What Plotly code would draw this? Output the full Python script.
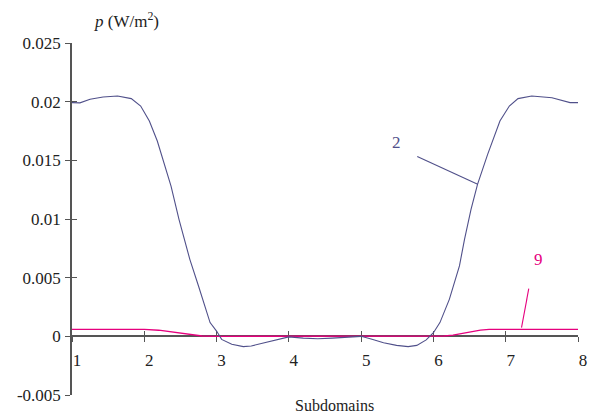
import plotly.graph_objects as go

# Curve 2
x2 = [1.0, 1.11, 1.25, 1.43, 1.63, 1.82, 1.95, 2.07, 2.18, 2.37, 2.48, 2.63, 2.75, 2.91, 3.0, 3.07,
      3.21, 3.37, 3.48, 3.67, 3.85, 4.0, 4.2, 4.4, 4.6, 4.8, 5.0, 5.15, 5.31, 5.49, 5.65, 5.77, 5.9,
      6.0, 6.09, 6.22, 6.36, 6.43, 6.52, 6.61, 6.75, 6.92, 7.05, 7.17, 7.36, 7.64, 7.89, 8.0]
y2 = [0.01992, 0.0199, 0.0202, 0.0204, 0.02048, 0.02026, 0.01963, 0.01835, 0.01665, 0.01281, 0.00997,
      0.00656, 0.00429, 0.00117, 0.00045, -0.00026, -0.00068, -0.00088, -0.00082, -0.00054, -0.0003,
      -0.00005, -0.00015, -0.0002, -0.00015, -0.00008, 0.0, -0.00025, -0.00054, -0.00077, -0.00088,
      -0.00077, -0.0003, 0.00031, 0.00117, 0.00315, 0.006, 0.00827, 0.01082, 0.01295, 0.01551, 0.01835,
      0.01963, 0.02026, 0.02048, 0.02034, 0.01992, 0.01992]

# Curve 9
x9 = [1.0, 1.5, 2.0, 2.2, 2.39, 2.55, 2.66, 2.8, 3.0, 4.0, 5.0, 6.0, 6.15, 6.27, 6.4, 6.5, 6.65, 6.77, 7.0, 7.5, 8.0]
y9 = [0.0006, 0.0006, 0.0006, 0.00052, 0.00037, 0.0002, 0.0001, 0.00003, 0.0, 0.0, 0.0, 0.0, 0.00003,
      0.0001, 0.00025, 0.0004, 0.00053, 0.0006, 0.0006, 0.0006, 0.0006]

x_ticks = [1, 2, 3, 4, 5, 6, 7, 8]
y_ticks = [-0.005, 0, 0.005, 0.01, 0.015, 0.02, 0.025]
y_ticktext = ["-0.005", "0", "0.005", "0.01", "0.015", "0.02", "0.025"]

# curve labels: (text, label x, label y, leader x0, y0, x1, y1)
label2 = ("2", 5.486, 0.01649, 5.776, 0.01532, 6.612, 0.01296)
label9 = ("9", 7.452, 0.00656, 7.319, 0.00407, 7.219, 0.00074)

BLUE = "#50508a"
MAG = "#e6007e"
AX = "#555555"
FONT = "'Liberation Serif', 'Times New Roman', Times, serif"

XR = [1, 8]
YR = [-0.005, 0.025]
zero_pos = (0 - YR[0]) / (YR[1] - YR[0])

fig = go.Figure()
fig.add_trace(go.Scatter(x=x9, y=y9, mode="lines", line=dict(color=MAG, width=1.3), showlegend=False))
fig.add_trace(go.Scatter(x=x2, y=y2, mode="lines", line=dict(color=BLUE, width=1.1), showlegend=False))
# invisible trace to anchor overlay axes
fig.add_trace(go.Scatter(x=[XR[0]], y=[YR[0]], xaxis="x2", yaxis="y2", mode="markers",
                         marker=dict(opacity=0), showlegend=False, hoverinfo="skip"))

for lab, col in ((label2, BLUE), (label9, MAG)):
    t, lx, ly, ax0, ay0, ax1, ay1 = lab
    fig.add_annotation(x=lx, y=ly, text=t, showarrow=False, xanchor="center", yanchor="middle",
                       font=dict(family=FONT, size=17, color=col))
    fig.add_shape(type="line", x0=ax0, y0=ay0, x1=ax1, y1=ay1, line=dict(color=col, width=1.1))

fig.add_annotation(xref="paper", yref="paper", x=0.5186, y=-0.031, text="Subdomains", showarrow=False,
                   xanchor="center", yanchor="middle", font=dict(family=FONT, size=16, color="#222222"))
fig.add_annotation(xref="paper", yref="paper", x=0.1076, y=1.065, text="<i>p</i> (W/m<sup>2</sup>)",
                   showarrow=False, xanchor="center", yanchor="middle",
                   font=dict(family=FONT, size=17, color="#222222"))

common_x = dict(range=XR, tickvals=x_ticks, showgrid=False, zeroline=False, showline=True,
                linecolor=AX, linewidth=1.5, tickcolor=AX, tickwidth=1.2, ticklen=5,
                anchor="free", position=zero_pos, layer="below traces")
common_y = dict(range=YR, tickvals=y_ticks, showgrid=False, zeroline=False, showline=True,
                linecolor=AX, linewidth=1.5, tickcolor=AX, tickwidth=1.2, ticklen=5,
                layer="below traces")

fig.update_layout(
    width=599, height=419,
    margin=dict(l=72, r=16, t=43, b=24),
    paper_bgcolor="white", plot_bgcolor="white",
    font=dict(family=FONT, size=17, color="#222222"),
    xaxis=dict(**common_x, ticks="outside", ticklabelshift=5, ticklabelstandoff=4),
    yaxis=dict(**common_y, ticks="outside", ticktext=y_ticktext, ticklabelstandoff=1),
    xaxis2=dict(**common_x, ticks="inside", showticklabels=False, overlaying="x"),
    yaxis2=dict(**common_y, ticks="inside", showticklabels=False, overlaying="y", anchor="x2"),
)

fig.write_html("out.html")
